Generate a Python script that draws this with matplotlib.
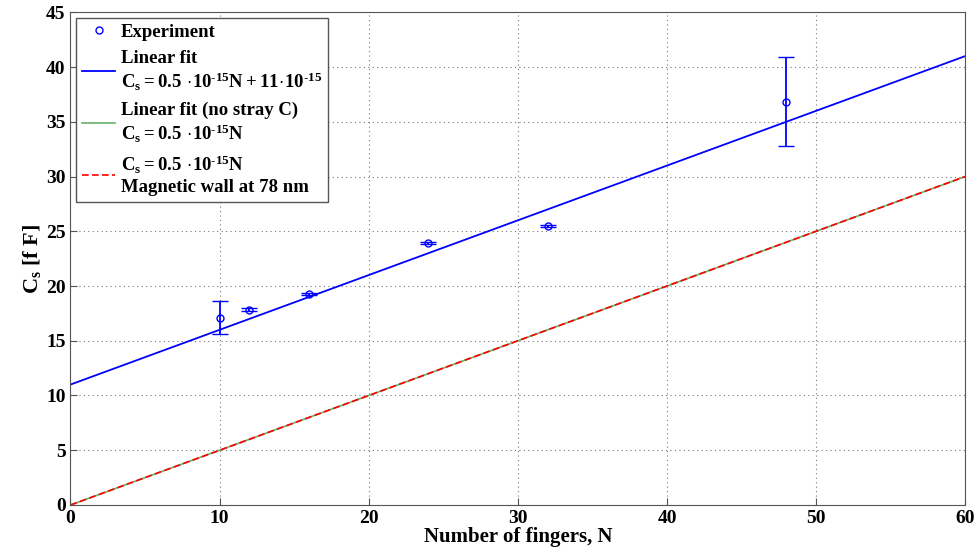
import numpy as np
from matplotlib import pyplot as plt
from matplotlib.lines import Line2D

plt.rcParams['font.family'] = ['Liberation Serif', 'DejaVu Serif']
plt.rcParams['font.weight'] = 'bold'
plt.rcParams['axes.labelweight'] = 'bold'
plt.rcParams['mathtext.fontset'] = 'custom'
plt.rcParams['mathtext.rm'] = 'Liberation Serif:bold'
plt.rcParams['mathtext.it'] = 'Liberation Serif:bold'
plt.rcParams['mathtext.bf'] = 'Liberation Serif:bold'
plt.rcParams['mathtext.default'] = 'rm'

# measured points
fingers = [10, 12, 16, 24, 32, 48]
cap = [17.1, 17.85, 19.3, 23.9, 25.5, 36.8]
err_lo = [1.45, 0.1, 0.1, 0.1, 0.1, 4.05]
err_hi = [1.55, 0.1, 0.1, 0.1, 0.1, 4.1]

# fit parameters (fF)
slope = 0.5
offset = 11.0
n_line = np.array([0, 60])

blue = '#0000ff'
hy = '\u2010'

fig, ax = plt.subplots(figsize=(9.79, 5.58), dpi=100)
fig.subplots_adjust(left=0.072, right=0.986, top=0.978, bottom=0.095)

ax.errorbar(fingers, cap, yerr=[err_lo, err_hi], fmt='o', color=blue,
            mfc='none', ms=5, mew=1, capsize=5.5, elinewidth=1.3, capthick=1.3,
            zorder=4)
l1, = ax.plot(n_line, slope * n_line + offset, color=blue, lw=1.3)
l2, = ax.plot(n_line, slope * n_line, color='#6ab06a', lw=1.2)
l3, = ax.plot(n_line, slope * n_line, color='#ff0000', lw=1.2, ls='--',
              dashes=(4, 2))
pt = Line2D([], [], ls='none', marker='o', color=blue, mfc='none', ms=5)

labels = [
    'Experiment',
    'Linear fit\n$C_s = 0.5\\,\\cdot\\!10^{' + hy + '15}N + 11\\!\\cdot\\!10^{' + hy + '15}$',
    'Linear fit (no stray C)\n$C_s = 0.5\\,\\cdot\\!10^{' + hy + '15}N$',
    '$C_s = 0.5\\,\\cdot\\!10^{' + hy + '15}N$\nMagnetic wall at 78 nm',
]

ax.set_xlim(0, 60)
ax.set_ylim(0, 45)
ax.set_xticks(range(0, 61, 10))
ax.set_yticks(range(0, 46, 5))
ax.tick_params(direction='in', labelsize=14, length=5, colors='#555555',
               labelcolor='black')
for s in ax.spines.values():
    s.set_color('#555555')
ax.grid(True, ls=(0, (1, 3)), color='#777777', lw=0.8)

ax.set_xlabel('Number of fingers, N', fontsize=15, labelpad=0)
ax.set_ylabel('C$_s$ [f F]', fontsize=16, labelpad=2)

leg = ax.legend([pt, l1, l2, l3], labels, loc='upper left', fontsize=13.5,
                handlelength=1.8, handletextpad=0.3, borderaxespad=0.3,
                labelspacing=0.5, fancybox=False, framealpha=1,
                edgecolor='#555555', borderpad=0.3)
leg.get_frame().set_linewidth(1)

fig.savefig('out.png', dpi=100)
